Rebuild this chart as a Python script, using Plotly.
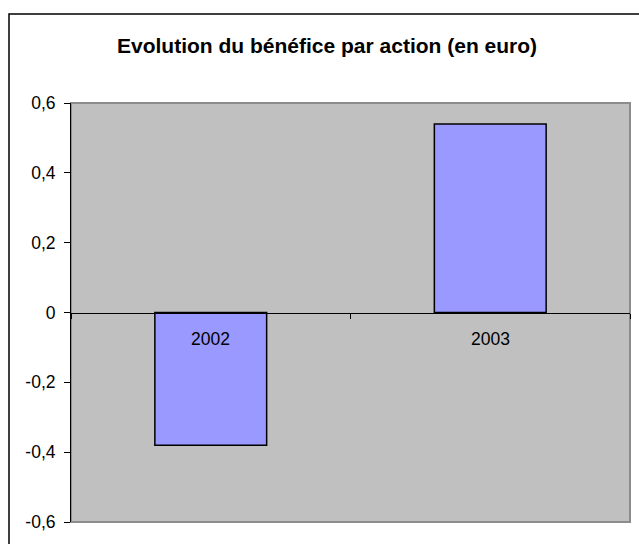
import plotly.graph_objects as go

categories = ["2002", "2003"]
values = [-0.38, 0.54]
y_tick_vals = [-0.6, -0.4, -0.2, 0, 0.2, 0.4, 0.6]
y_tick_text = ["-0,6", "-0,4", "-0,2", "0", "0,2", "0,4", "0,6"]
title_text = "Evolution du bénéfice par action (en euro)"

W, H = 639, 544
L, R, T, B = 71, 9, 103, 22
pw, ph = W - L - R, H - T - B


def px_to_paper_x(px):
    return (px - L) / pw


def px_to_paper_y(py):
    return 1 + (T - py) / ph


FONT = "Liberation Sans, Arial, sans-serif"

fig = go.Figure()
fig.add_trace(go.Bar(
    x=categories, y=values,
    marker=dict(color="#9999FF", line=dict(color="#000000", width=1.5)),
    hoverinfo="skip",
))

annotations = []
for i, c in enumerate(categories):
    annotations.append(dict(
        x=i, y=-0.077, xref="x", yref="y", text=c, showarrow=False,
        font=dict(family=FONT, size=17.5, color="#000000"),
        xanchor="center", yanchor="middle",
    ))
annotations.append(dict(
    x=px_to_paper_x(327), y=px_to_paper_y(45.5), xref="paper", yref="paper",
    text=title_text, showarrow=False,
    font=dict(family=FONT, size=21, color="#000000", weight="bold"),
    xanchor="center", yanchor="middle",
))

shapes = [
    dict(type="rect", xref="paper", yref="paper", x0=0, x1=1, y0=0, y1=1,
         line=dict(color="#8C8C8C", width=2), fillcolor="rgba(0,0,0,0)", layer="below"),
    dict(type="rect", xref="paper", yref="paper",
         x0=px_to_paper_x(9), x1=px_to_paper_x(660),
         y0=px_to_paper_y(560), y1=px_to_paper_y(14),
         line=dict(color="#000000", width=1.5), fillcolor="rgba(0,0,0,0)", layer="above"),
]

fig.update_layout(
    width=W, height=H,
    margin=dict(l=L, r=R, t=T, b=B, autoexpand=False),
    paper_bgcolor="#FFFFFF", plot_bgcolor="#C0C0C0",
    bargap=0.6, showlegend=False,
    font=dict(family=FONT, size=17.5, color="#000000"),
    annotations=annotations, shapes=shapes,
    xaxis=dict(
        type="category", range=[-0.5, len(categories) - 0.5],
        anchor="free", position=0.5,
        tickson="boundaries", ticks="outside", ticklen=5, tickcolor="#000000",
        showticklabels=False, showline=True, linecolor="#000000", linewidth=1,
        showgrid=False, zeroline=False, fixedrange=True,
    ),
    yaxis=dict(
        range=[-0.6, 0.6], tickvals=y_tick_vals, ticktext=y_tick_text,
        ticks="outside", ticklen=6, tickcolor="#000000",
        showline=True, linecolor="#000000", linewidth=1,
        showgrid=False, zeroline=False, ticklabelstandoff=5, fixedrange=True,
        tickfont=dict(family=FONT, size=17.5, color="#000000"),
    ),
)

fig.write_html("out.html", config={"displayModeBar": False},
               post_script="document.body.style.margin='0';")
